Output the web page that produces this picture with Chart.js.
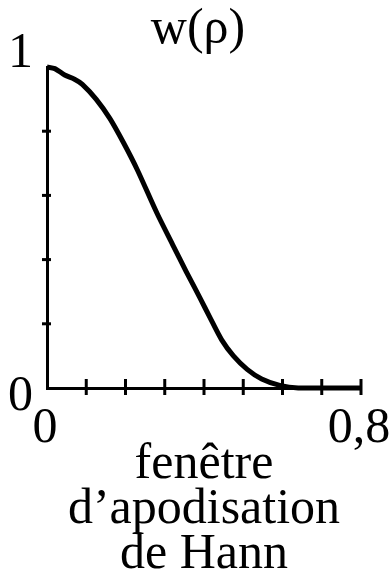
<!DOCTYPE html>
<html>
<head>
<meta charset="utf-8">
<script src="https://cdn.jsdelivr.net/npm/chart.js@4"></script>
<style>
  html, body { margin: 0; padding: 0; background: #fff; }
  #wrap { width: 390px; height: 577px; position: relative; }
</style>
</head>
<body>
<div id="wrap"><canvas id="myChart"></canvas></div>
<script>
// Hann window
var rho = [0, 0.02, 0.045, 0.07, 0.09, 0.125, 0.16, 0.195, 0.23, 0.28, 0.32, 0.355, 0.39, 0.415, 0.445, 0.475, 0.51, 0.547, 0.593, 0.64, 0.8];
var w   = [1, 0.995, 0.975, 0.962, 0.946, 0.9, 0.84, 0.764, 0.68, 0.545, 0.447, 0.362, 0.28, 0.22, 0.15, 0.1, 0.058, 0.028, 0.008, 0, 0];

var xLabelValues = [0, 0.8];
var xLabelTexts  = ['0', '0,8'];
var yLabelValues = [0, 1];
var yLabelTexts  = ['0', '1'];

var titleText = 'w(ρ)';
var captionLines = ['fenêtre', 'd’apodisation', 'de Hann'];

var FONT = '"Liberation Serif", "Times New Roman", serif';

var points = [];
rho.forEach(function (r, i) { points.push({ x: r, y: w[i] }); });

// ticks crossing the axes + the few tick labels
var axisMarks = {
    id: 'axisMarks',
    afterDraw: function (chart) {
        var ctx = chart.ctx;
        var xs = chart.scales.x, ys = chart.scales.y;
        var y0 = ys.getPixelForValue(0);
        var x0 = xs.getPixelForValue(0);
        ctx.save();
        ctx.strokeStyle = '#000';
        ctx.lineWidth = 3;
        xs.ticks.forEach(function (t) {
            if (t.value <= 0) return;
            var px = xs.getPixelForValue(t.value);
            ctx.beginPath();
            ctx.moveTo(px, y0 - 9);
            ctx.lineTo(px, y0 + 7);
            ctx.stroke();
        });
        ys.ticks.forEach(function (t) {
            if (t.value <= 0 || t.value >= 1) return;
            var py = ys.getPixelForValue(t.value);
            ctx.beginPath();
            ctx.moveTo(x0 - 5, py);
            ctx.lineTo(x0 + 4, py);
            ctx.stroke();
        });

        ctx.fillStyle = '#000';
        ctx.font = '50px ' + FONT;
        ctx.textBaseline = 'alphabetic';
        ctx.textAlign = 'center';
        xLabelValues.forEach(function (v, i) {
            ctx.fillText(xLabelTexts[i], xs.getPixelForValue(v) - 2, y0 + 54);
        });
        ctx.textAlign = 'right';
        yLabelValues.forEach(function (v, i) {
            var dy = v === 0 ? 22 : 0;
            ctx.fillText(yLabelTexts[i], x0 - 14, ys.getPixelForValue(v) + dy);
        });
        ctx.restore();
    }
};

const ctx = document.getElementById('myChart');
const myChart = new Chart(ctx, {
    type: 'line',
    data: {
        datasets: [{
            data: points,
            borderColor: '#000',
            borderWidth: 5,
            pointRadius: 0,
            fill: false,
            tension: 0.3,
            clip: false
        }]
    },
    options: {
        responsive: true,
        maintainAspectRatio: false,
        animation: false,
        layout: { padding: { left: 35, right: 29, top: 0, bottom: 0 } },
        plugins: {
            legend: { display: false },
            tooltip: { enabled: false },
            title: {
                display: true,
                text: titleText,
                color: '#000',
                font: { family: FONT, size: 50, weight: 'normal', lineHeight: 1.2 },
                padding: { top: 0, bottom: 7 }
            }
        },
        scales: {
            x: {
                type: 'linear',
                min: 0,
                max: 0.8,
                ticks: { display: false, stepSize: 0.1 },
                grid: { display: false, drawTicks: false },
                border: { display: true, color: '#000', width: 3 },
                title: {
                    display: true,
                    text: captionLines,
                    color: '#000',
                    font: { family: FONT, size: 50, weight: 'normal', lineHeight: 0.9 },
                    padding: { top: 54, bottom: 0 }
                }
            },
            y: {
                min: 0,
                max: 1,
                ticks: { display: false, stepSize: 0.2 },
                grid: { display: false, drawTicks: false },
                border: { display: true, color: '#000', width: 3 },
                afterFit: function (scale) { scale.width = 12; }
            }
        }
    },
    plugins: [axisMarks]
});
</script>
</body>
</html>
